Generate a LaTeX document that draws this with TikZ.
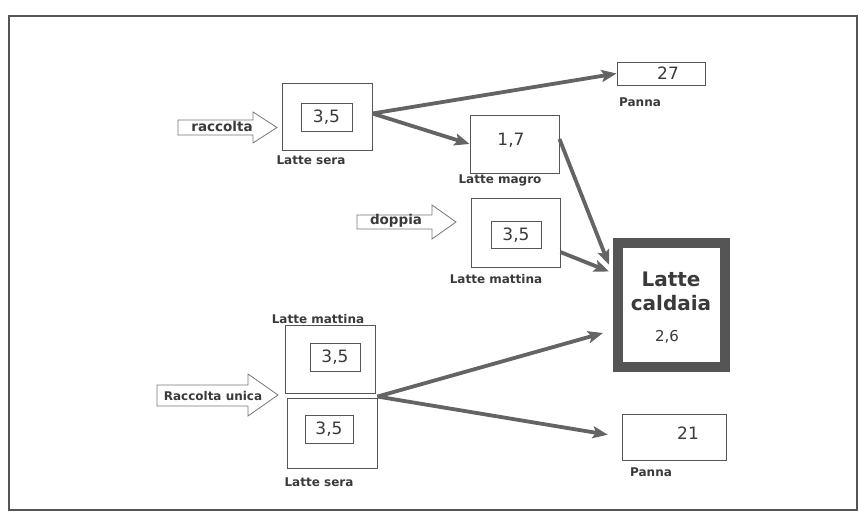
\documentclass[tikz,border=0pt]{standalone}
\usepackage{fontspec}
\setmainfont{DejaVu Sans}
\usetikzlibrary{arrows.meta,calc}
\definecolor{ink}{HTML}{3A3A3A}
\definecolor{edge}{HTML}{555555}
\definecolor{flow}{HTML}{646464}
\begin{document}
\begin{tikzpicture}[x=1pt,y=-1pt,
  box/.style={draw=edge,line width=0.9pt,fill=white,inner sep=0pt},
  valbox/.style={draw=edge,line width=0.9pt,fill=white,inner sep=0pt},
  num/.style={text=ink,font=\fontsize{17}{19}\selectfont,inner sep=0pt},
  tag/.style={text=ink,font=\bfseries\fontsize{12}{14}\selectfont,inner sep=0pt},
  intext/.style={text=ink,font=\bfseries\fontsize{13.5}{15}\selectfont,inner sep=0pt},
  blockarrow/.style={draw=edge!80,line width=0.8pt,fill=white,line join=miter},
  flowline/.style={draw=flow,line width=3.8pt,-{Stealth[length=15pt,width=12pt,inset=3pt]}},
]
\useasboundingbox (0,0) rectangle (859,513);
% outer frame
\draw[edge,line width=1.2pt] (9,16) rectangle (857,510);

% ---- evening milk, collected the day before ----
\node[box,minimum width=90pt,minimum height=67pt] (ls) at (327,116.5) {};
\node[valbox,minimum width=51pt,minimum height=28pt] (lsv) at (326.5,117) {};
\node[num] (lsn) at (326.5,117.5) {3,5};
\node[tag] (lst) at (311,160) {Latte sera};

\draw[blockarrow] (178,120) -- (253,120) -- (253,112) -- (277,127.5) -- (253,143) -- (253,135) -- (178,135) -- cycle;
\node[intext] (ra) at (222,126) {raccolta};

% cream skimmed off
\node[box,minimum width=88pt,minimum height=23pt] (p1) at (661,73.5) {};
\node[num] (p1n) at (668,73.5) {27};
\node[tag] (p1t) at (640,102) {Panna};

% skimmed milk
\node[box,minimum width=89pt,minimum height=58pt] (lm) at (514.5,144) {};
\node[num] (lmn) at (511,140) {1,7};
\node[tag] (lmt) at (500,180) {Latte magro};

% ---- morning milk ----
\node[box,minimum width=89pt,minimum height=69pt] (mm) at (515.5,232.5) {};
\node[valbox,minimum width=50pt,minimum height=27pt] (mmv) at (516,234.5) {};
\node[num] (mmn) at (516,235) {3,5};
\node[tag] (mmt) at (496,279) {Latte mattina};

\draw[blockarrow] (357,215) -- (432,215) -- (432,205) -- (456,222) -- (432,239) -- (432,229) -- (357,229) -- cycle;
\node[intext] (dp) at (396,221) {doppia};

% ---- vat ----
\node[draw=edge,line width=10pt,fill=white,minimum width=107pt,minimum height=124pt,inner sep=0pt] (vat) at (671.5,305) {};
\node[text=ink,font=\bfseries\fontsize{20}{22}\selectfont,inner sep=0pt] (vt1) at (671,279) {Latte};
\node[text=ink,font=\bfseries\fontsize{20}{22}\selectfont,inner sep=0pt] (vt2) at (671,303) {caldaia};
\node[text=ink,font=\fontsize{15}{17}\selectfont,inner sep=0pt] (vtn) at (667,337) {2,6};

% ---- single collection ----
\node[tag] (umt) at (318,319) {Latte mattina};
\node[box,minimum width=90pt,minimum height=68pt] (um) at (330,359) {};
\node[valbox,minimum width=50pt,minimum height=28pt] (umv) at (335,357) {};
\node[num] (umn) at (335,357.5) {3,5};
\node[box,minimum width=90pt,minimum height=70pt] (us) at (332,433) {};
\node[valbox,minimum width=48pt,minimum height=28pt] (usv) at (329,429) {};
\node[num] (usn) at (329,429.5) {3,5};
\node[tag] (ust) at (319,482) {Latte sera};

\draw[blockarrow] (157,385) -- (248,385) -- (248,374) -- (278,395) -- (248,416) -- (248,406) -- (157,406) -- cycle;
\node[intext,font=\bfseries\fontsize{12}{14}\selectfont] (ru) at (213,396) {Raccolta unica};

\node[box,minimum width=104pt,minimum height=46pt] (p2) at (674,437) {};
\node[num] (p2n) at (688,433) {21};
\node[tag] (p2t) at (651,472) {Panna};

% ---- flows ----
\coordinate (lsout) at ($(ls.east)+(0,-3)$);
\draw[flowline] (lsout) -- (p1.west);
\draw[flowline] (lsout) -- (lm.west);
\draw[flowline] ($(lm.east)+(0,-5)$) -- ($(vat.north west)!0.2!(vat.south west)+(-4,0)$);
\draw[flowline] ($(mm.north east)!0.78!(mm.south east)$) -- ($(vat.north west)!0.25!(vat.south west)+(-4,0)$);
\coordinate (usout) at ($(us.north east)+(0,-1)$);
\coordinate (vatin) at (603,333);
\draw[flowline] (usout) -- (vatin);
\draw[flowline,shorten >=14pt] (usout) -- (p2.west);
\end{tikzpicture}
\end{document}
